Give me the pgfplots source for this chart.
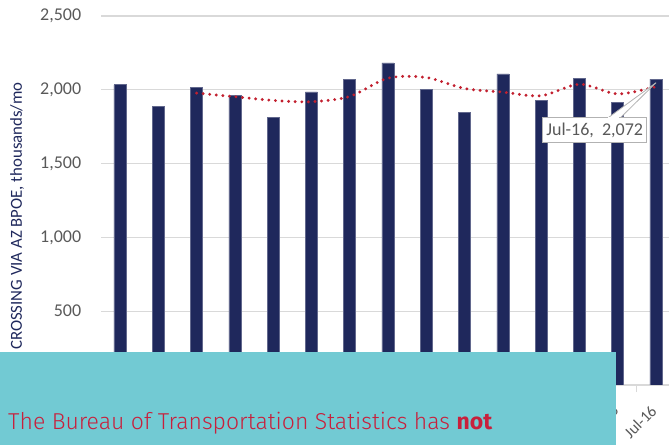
\documentclass[border=0pt]{standalone}
\usepackage{pgfplots}
\pgfplotsset{compat=1.18}
\usepackage{fontspec}
\setmainfont{Carlito}
\newfontfamily\fira{Fira Sans Light}[BoldFont={Fira Sans Bold}]
\definecolor{barc}{HTML}{1F285C}
\definecolor{gridc}{HTML}{D9D9D9}
\definecolor{tickc}{HTML}{595959}
\definecolor{dotc}{HTML}{C2202F}
\definecolor{boxc}{HTML}{72CAD3}
\definecolor{txtc}{HTML}{C8203C}
\begin{document}
\begin{tikzpicture}
\useasboundingbox (0,0) rectangle (669bp,445bp);
\begin{axis}[
  at={(101bp,60bp)}, anchor=south west,
  scale only axis, width=568bp, height=369bp,
  xmin=-0.496, xmax=14.34, ymin=0, ymax=2500,
  separate axis lines,
  x axis line style={draw=gridc, line width=1.2bp},
  y axis line style={draw=none},
  ytick={0,500,1000,1500,2000,2500},
  ymajorgrids, grid style={gridc, line width=1.2bp},
  ytick style={draw=none},
  yticklabel style={font=\fontsize{18bp}{20bp}\selectfont, color=tickc, xshift=-12bp},
  /pgf/number format/.cd, 1000 sep={,}, assume math mode=true, /pgfplots/.cd,
  xtick={13,14},
  xticklabels={Jun-16,Jul-16},
  xtick pos=left, tick align=outside,
  major x tick style={draw=none},
  minor xtick={0.5,1.5,...,13.5},
  minor x tick style={draw=gridc, line width=1.2bp},
  minor tick length=7bp,
  xticklabel style={font=\fontsize{16bp}{18bp}\selectfont, color=tickc, inner sep=0bp, xshift=-2bp, yshift=-19bp, rotate=45, anchor=east},
]
\addplot[ybar, bar width=12bp, fill=barc, draw=barc!70!white, line width=0.6bp] coordinates {
(0,2034) (1,1885) (2,2014) (3,1960) (4,1811) (5,1986) (6,2068) (7,2182)
(8,2000) (9,1845) (10,2108) (11,1926) (12,2079) (13,1912) (14,2072)};
\addplot[smooth, color=dotc, line width=3.2bp, dash pattern=on 0bp off 6.6bp, line cap=round] coordinates {
(2,1977.7) (3,1953) (4,1928.3) (5,1919) (6,1955) (7,2078.7) (8,2083.3)
(9,2009) (10,1984.3) (11,1959.7) (12,2037.7) (13,1972.3) (14,2021)};
\filldraw[fill=white, draw=gray!60, line width=0.8bp] (axis cs:12.72,1805) -- (axis cs:14.0,2048) -- (axis cs:13.05,1805) -- cycle;
\node[fill=white, draw=gray!60, line width=0.8bp, minimum width=104bp, minimum height=25bp, inner sep=2bp, font=\fontsize{18bp}{20bp}\selectfont, text=tickc] at (axis cs:12.4,1726) {Jul-16,\ \ 2,072};
\fill[white] (axis cs:12.74,1800) rectangle (axis cs:13.03,1815);
\end{axis}
\node[rotate=90, anchor=west, font=\fontsize{16.8bp}{19bp}\selectfont, text=barc, inner sep=0pt] at (17bp,95bp) {CROSSING VIA AZ BPOE, thousands/mo};
\fill[boxc] (0,0) rectangle (616bp,93bp);
\node[anchor=base west, inner sep=0pt, font=\fira\fontsize{23bp}{26bp}\selectfont, text=txtc] at (8bp,16bp) {The Bureau of Transportation Statistics has \textbf{not}};
\end{tikzpicture}
\end{document}
